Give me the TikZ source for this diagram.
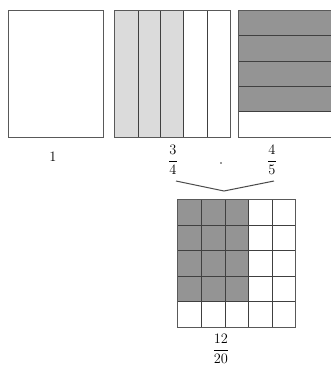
\documentclass[tikz,border=0pt]{standalone}
\begin{document}
\begin{tikzpicture}[x=1pt,y=-1pt,
  frame/.style={draw=black!65, line width=1pt},
  inner/.style={draw=black!75, line width=0.9pt},
  lightfill/.style={fill=black!14},
  darkfill/.style={fill=black!42},
  lbl/.style={font=\fontsize{13.5}{16}\selectfont, text=black, inner sep=0pt}]
\clip (0,0) rectangle (331,368);
\fill[white] (0,0) rectangle (331,368);
% box 1
\draw[frame] (9,10) rectangle (104,137);
% box 2 (3/4)
\fill[lightfill] (115,10) rectangle (183,137);
\foreach \x in {138,160,183,207} \draw[inner] (\x,10) -- (\x,137);
\draw[frame] (115,10) rectangle (231,137);
% box 3 (4/5)
\fill[darkfill] (239,10) rectangle (360,111);
\foreach \y in {35,61,86,111} \draw[inner] (239,\y) -- (360,\y);
\draw[frame] (239,10) rectangle (360,137);
% grid 12/20
\fill[darkfill] (178,199) rectangle (248,301);
\foreach \x in {201,225,248,272} \draw[inner] (\x,199) -- (\x,327);
\foreach \y in {225,250,276,301} \draw[inner] (178,\y) -- (296,\y);
\draw[frame] (178,199) rectangle (296,327);
% labels
\node[lbl] (one) at (53,157) {$1$};
\node[lbl] (a) at (173,160) {$\displaystyle\frac{3}{4}$};
\node[circle, fill=black!80, inner sep=0pt, minimum size=1.8pt] (dot) at (221,163) {};
\node[lbl] (b) at (272,160) {$\displaystyle\frac{4}{5}$};
\node[lbl] (c) at (221,349) {$\displaystyle\frac{12}{20}$};
% bracket
\coordinate (bl) at (176,181);
\coordinate (bm) at (224,191);
\coordinate (br) at (274,181);
\draw[black!70, line width=1pt] (bl) -- (bm) -- (br);
\end{tikzpicture}
\end{document}
